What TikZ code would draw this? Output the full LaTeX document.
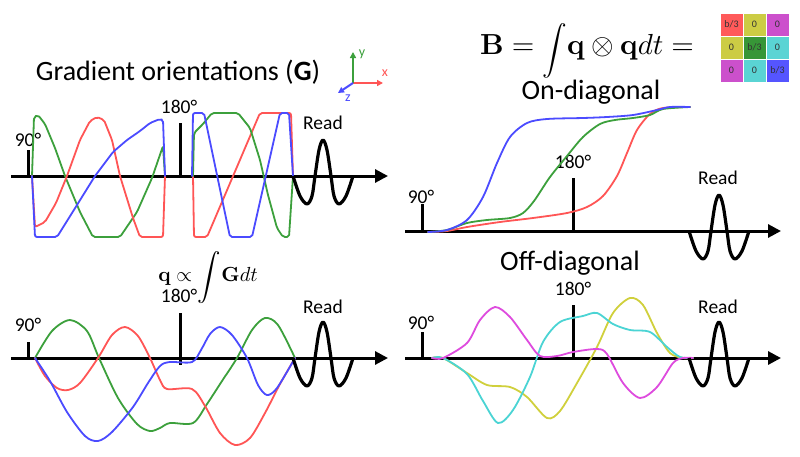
\documentclass[tikz,border=0pt]{standalone}
\usepackage[no-math]{fontspec}
\setmainfont{Carlito}
\usepackage{graphicx}
\usetikzlibrary{arrows.meta}
\definecolor{cR}{RGB}{255,85,85}
\definecolor{cG}{RGB}{60,160,60}
\definecolor{cB}{RGB}{75,75,255}
\definecolor{cM}{RGB}{222,75,222}
\definecolor{cC}{RGB}{75,212,212}
\definecolor{cY}{RGB}{208,208,60}
\definecolor{mR}{RGB}{255,90,90}
\definecolor{mY}{RGB}{204,204,68}
\definecolor{mM}{RGB}{204,80,204}
\definecolor{mG}{RGB}{55,150,55}
\definecolor{mC}{RGB}{90,212,212}
\definecolor{mB}{RGB}{85,85,255}
\begin{document}
\begin{tikzpicture}[x=1pt,y=-1pt,
  axisline/.style={line width=3pt,-{Triangle[length=13pt,width=13pt]}},
  pulsetick/.style={line width=3pt},
  wave/.style={line width=1.8pt,line join=round,line cap=round,rounded corners=2pt},
  swave/.style={line width=1.8pt,line join=round,line cap=round},
  readw/.style={line width=3.2pt,line join=round},
  lbl/.style={font=\fontsize{19.5}{20}\selectfont,inner sep=0pt},
  ttl/.style={font=\fontsize{28}{30}\selectfont,inner sep=0pt},
  cell/.style={draw=white,line width=1pt,minimum size=23pt,inner sep=0pt,font=\fontsize{10}{10}\selectfont,text=black!80},
  axlbl/.style={font=\fontsize{14}{14}\selectfont,inner sep=0pt},
  smallarrow/.style={line width=2pt,-{Triangle[length=6pt,width=6pt]}},
  readpulse/.pic={\draw[readw] plot[smooth,tension=0.55] coordinates {(-30,0)(-23,20)(-16,28)(-11,20)(-8,0)(-4,-26)(0,-36)(4,-26)(8,0)(11,20)(16,28)(23,20)(30,0)};}
]
\useasboundingbox (0,0) rectangle (800,456);
\fill[white] (0,0) rectangle (800,456);

% ================= TOP LEFT =================
\node[ttl] (t1) at (178,72) {Gradient orientations (\textbf{G})};
\coordinate (o1) at (353,83);
\coordinate (xe) at (383,83);
\coordinate (ye) at (353,52);
\coordinate (ze) at (338,93);
\draw[smallarrow,cR] (o1) -- (xe);
\draw[smallarrow,cG] (o1) -- (ye);
\draw[smallarrow,cB] (o1) -- (ze);
\node[axlbl,text=cR] (xl) at (385,73) {x};
\node[axlbl,text=cG] (yl) at (362,54) {y};
\node[axlbl,text=cB] (zl) at (348,98) {z};

\coordinate (a1s) at (11,176);
\coordinate (a1e) at (388,176);
\draw[axisline] (a1s) -- (a1e);
\coordinate (p90a) at (28,150); \coordinate (p90ab) at (28,177);
\draw[pulsetick] (p90a) -- (p90ab);
\coordinate (p180a) at (180,123); \coordinate (p180ab) at (180,177);
\draw[pulsetick] (p180a) -- (p180ab);
\node[lbl] (l90a) at (28,140) {90°};
\node[lbl] (l180a) at (179,107) {180°};
\node[lbl] (lra) at (323,123) {Read};

% green
\draw[wave,cG] (32,176) -- (34,117) -- (38,115) -- (45,124) -- (55,148) -- (65,176) -- (80,212) -- (93,237) -- (120,237) -- (137,212) -- (152,178) -- (163,146) -- (165,176);
% red
\draw[wave,cR] (32,176) -- (35,227) -- (45,222) -- (56,203) -- (67,176) -- (80,140) -- (90,121) -- (97,117) -- (104,120) -- (112,140) -- (120,176) -- (133,218) -- (140,237) -- (163,237) -- (165,176);
% blue
\draw[wave,cB] (32,176) -- (35,237) -- (57,237) -- (77,205) -- (95,176) -- (113,152) -- (127,140) -- (140,131) -- (150,123) -- (160,119) -- (163,120) -- (165,176);
% right half
\draw[wave,cR] (193,176) -- (194,237) -- (207,237) -- (260,113) -- (291,113) -- (293,176);
\draw[wave,cG] (193,176) -- (194,133) -- (203,124) -- (212,113) -- (238,113) -- (250,128) -- (260,160) -- (268,195) -- (277,228) -- (283,237) -- (289,237) -- (293,176);
\draw[wave,cB] (192,176) -- (193,113) -- (204,113) -- (230,237) -- (252,237) -- (280,113) -- (289,113) -- (293,176);
\pic at (323,176) {readpulse};

% ================= BOTTOM LEFT =================
\node[inner sep=0pt,anchor=base] (fq) at (208,281) {\scalebox{2.04}{$\mathbf{q}\propto\raisebox{-1pt}{$\vcenter{\hbox{\scalebox{1.15}{$\displaystyle\int$}}}$}\mathbf{G}dt$}};
\coordinate (a2s) at (11,358);
\coordinate (a2e) at (388,358);
\draw[axisline] (a2s) -- (a2e);
\coordinate (p90b) at (28,342); \coordinate (p90bb) at (28,359);
\draw[pulsetick] (p90b) -- (p90bb);
\coordinate (p180b) at (180,313); \coordinate (p180bb) at (180,365);
\draw[pulsetick] (p180b) -- (p180bb);
\node[lbl] (l90b) at (28,325) {90°};
\node[lbl] (l180b) at (179,296) {180°};
\node[lbl] (lrb) at (323,307) {Read};

\draw[swave,cG] plot[smooth,tension=0.5] coordinates {(35,358)(52,331)(70,320)(87,331)(99,358)(118,398)(137,424)(150,431)(160,428)(170,423)(193,423)(207,404)(222,381)(237,358)(252,330)(265,318)(278,325)(295,358)};
\draw[swave,cR] plot[smooth,tension=0.5] coordinates {(35,358)(45,376)(57,388)(68,390)(80,383)(98,358)(112,335)(125,327)(138,336)(150,358)(160,380)(167,389)(192,389)(205,406)(220,433)(235,445)(250,438)(265,413)(280,384)(295,358)};
\draw[swave,cB] plot[smooth,tension=0.5] coordinates {(35,358)(50,381)(67,412)(85,436)(98,441)(112,432)(133,407)(148,383)(160,366)(170,362)(192,362)(201,350)(210,334)(220,327)(232,335)(247,358)(258,385)(267,395)(277,388)(295,358)};
\pic at (323,358) {readpulse};

% ================= TOP RIGHT =================
\node[inner sep=0pt,anchor=base] (fb) at (587,54) {\scalebox{2.9}{$\displaystyle\mathbf{B}=\raisebox{-1.4pt}{$\vcenter{\hbox{\scalebox{0.85}{$\displaystyle\int$}}}$}\mathbf{q}\otimes\mathbf{q}dt=$}};
\node[cell,fill=mR] (m11) at (731.5,24.5) {b/3};
\node[cell,fill=mY] (m12) at (754.5,24.5) {0};
\node[cell,fill=mM] (m13) at (777.5,24.5) {0};
\node[cell,fill=mY] (m21) at (731.5,47.5) {0};
\node[cell,fill=mG] (m22) at (754.5,47.5) {b/3};
\node[cell,fill=mC] (m23) at (777.5,47.5) {0};
\node[cell,fill=mM] (m31) at (731.5,70.5) {0};
\node[cell,fill=mC] (m32) at (754.5,70.5) {0};
\node[cell,fill=mB] (m33) at (777.5,70.5) {b/3};

\node[ttl] (t2) at (591,92) {On-diagonal};
\coordinate (a3s) at (405,231);
\coordinate (a3e) at (781,231);
\draw[axisline] (a3s) -- (a3e);
\coordinate (p90c) at (422,204); \coordinate (p90cb) at (422,232);
\draw[pulsetick] (p90c) -- (p90cb);
\coordinate (p180c) at (573,178); \coordinate (p180cb) at (573,232);
\draw[pulsetick] (p180c) -- (p180cb);
\node[lbl] (l90c) at (421,197) {90°};
\node[lbl] (l180c) at (573,162) {180°};
\node[lbl] (lrc) at (718,178) {Read};

\draw[swave,cR] plot[smooth,tension=0.5] coordinates {(428,232)(447,231)(467,227)(500,222)(533,218)(567,213)(587,207)(603,196)(617,176)(627,153)(637,130)(650,114)(663,108)(690,107)};
\draw[swave,cG] plot[smooth,tension=0.5] coordinates {(428,232)(447,230)(467,223)(487,220)(510,218)(523,213)(534,201)(550,177)(567,156)(583,137)(600,124)(615,120)(633,118)(650,115)(663,109)(690,107)};
\draw[swave,cB] plot[smooth,tension=0.5] coordinates {(428,232)(447,230)(467,220)(483,197)(497,163)(510,137)(527,123)(547,119)(583,118)(607,117)(633,115)(657,110)(670,107)(690,107)};
\pic at (719,231) {readpulse};

% ================= BOTTOM RIGHT =================
\node[ttl] (t3) at (570,263) {Off-diagonal};
\coordinate (a4s) at (405,358);
\coordinate (a4e) at (781,358);
\draw[axisline] (a4s) -- (a4e);
\coordinate (p90d) at (422,332); \coordinate (p90db) at (422,359);
\draw[pulsetick] (p90d) -- (p90db);
\coordinate (p180d) at (573,305); \coordinate (p180db) at (573,359);
\draw[pulsetick] (p180d) -- (p180db);
\node[lbl] (l90d) at (421,323) {90°};
\node[lbl] (l180d) at (573,289) {180°};
\node[lbl] (lrd) at (718,307) {Read};

\draw[swave,cY] plot[smooth,tension=0.5] coordinates {(432,358)(443,358)(467,373)(487,385)(510,387)(527,397)(547,418)(560,411)(577,383)(597,347)(613,313)(630,298)(643,305)(657,333)(670,353)(683,358)(693,358)};
\draw[swave,cC] plot[smooth,tension=0.5] coordinates {(432,358)(443,358)(467,374)(483,401)(498,423)(513,410)(530,377)(543,342)(560,322)(583,316)(597,313)(613,324)(630,330)(650,332)(667,347)(680,357)(693,358)};
\draw[swave,cM] plot[smooth,tension=0.5] coordinates {(432,358)(443,358)(467,343)(480,320)(495,307)(510,317)(527,340)(540,356)(557,356)(573,352)(597,349)(607,354)(623,383)(640,398)(657,387)(673,363)(683,358)(693,358)};
\pic at (719,358) {readpulse};
\end{tikzpicture}
\end{document}
